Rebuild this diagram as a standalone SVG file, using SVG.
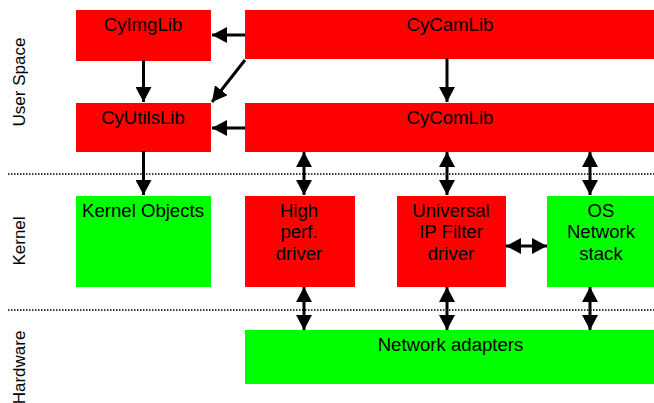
<svg xmlns="http://www.w3.org/2000/svg" width="654" height="403" viewBox="0 0 654 403">
<style>
text{font-family:"Liberation Sans",Arial,sans-serif;font-size:18.6px;fill:#000;text-anchor:middle}
.s{font-size:17px}
.r{fill:#f00}.g{fill:#0f0}
.c{stroke:#000;stroke-width:3;fill:none}
.d{stroke:#000;stroke-width:1.3;stroke-dasharray:1.5 1.5;fill:none}
</style>
<defs>
<marker id="e" markerUnits="userSpaceOnUse" markerWidth="16" markerHeight="16" refX="15" refY="8" orient="auto-start-reverse"><path d="M0 0L15 8L0 16Z" fill="#000"/></marker>
</defs>
<rect width="654" height="403" fill="#fff"/>
<g id="CyImgLib"><rect class="r" x="76" y="10" width="135" height="51"/><text x="143" y="31">CyImgLib</text></g>
<g id="CyCamLib"><rect class="r" x="245" y="10" width="409" height="49"/><text x="450" y="31">CyCamLib</text></g>
<g id="CyUtilsLib"><rect class="r" x="76" y="103" width="135" height="49"/><text x="143" y="124">CyUtilsLib</text></g>
<g id="CyComLib"><rect class="r" x="245" y="103" width="409" height="49"/><text x="450" y="124">CyComLib</text></g>
<g id="KernelObjects"><rect class="g" x="76" y="196" width="135" height="91"/><text x="143" y="217">Kernel Objects</text></g>
<g id="HighPerfDriver"><rect class="r" x="245" y="196" width="110" height="91"/><text x="299" y="217">High</text><text x="299" y="238">perf.</text><text x="299" y="260">driver</text></g>
<g id="UniversalIPFilterDriver"><rect class="r" x="397" y="196" width="109" height="91"/><text x="451" y="217">Universal</text><text x="451" y="238">IP Filter</text><text x="451" y="260">driver</text></g>
<g id="OSNetworkStack"><rect class="g" x="547" y="196" width="107" height="91"/><text x="601" y="217">OS</text><text x="601" y="238">Network</text><text x="601" y="260">stack</text></g>
<g id="NetworkAdapters"><rect class="g" x="245" y="330" width="409" height="54"/><text x="450.500" y="351">Network adapters</text></g>
<g id="labels">
<text class="s" transform="translate(25 82) rotate(-90)">User Space</text>
<text class="s" transform="translate(25 241) rotate(-90)">Kernel</text>
<text class="s" transform="translate(25 367.500) rotate(-90)">Hardware</text>
</g>
<g id="connectors">
<path class="d" d="M8 174H654M8 310H654"/>
<path class="c" marker-end="url(#e)" d="M245 35H212"/>
<path class="c" marker-end="url(#e)" d="M143.500 60V102"/>
<path class="c" marker-end="url(#e)" d="M245 60L212 102"/>
<path class="c" marker-end="url(#e)" d="M447 58V102"/>
<path class="c" marker-end="url(#e)" d="M245 128H212"/>
<path class="c" marker-end="url(#e)" d="M143.500 151V195"/>
<path class="c" marker-start="url(#e)" marker-end="url(#e)" d="M304 152V195"/>
<path class="c" marker-start="url(#e)" marker-end="url(#e)" d="M447 152V195"/>
<path class="c" marker-start="url(#e)" marker-end="url(#e)" d="M590 152V195"/>
<path class="c" marker-start="url(#e)" marker-end="url(#e)" d="M506 246H547"/>
<path class="c" marker-start="url(#e)" marker-end="url(#e)" d="M304 287V330"/>
<path class="c" marker-start="url(#e)" marker-end="url(#e)" d="M447 287V330"/>
<path class="c" marker-start="url(#e)" marker-end="url(#e)" d="M590 287V330"/>
</g>
</svg>
